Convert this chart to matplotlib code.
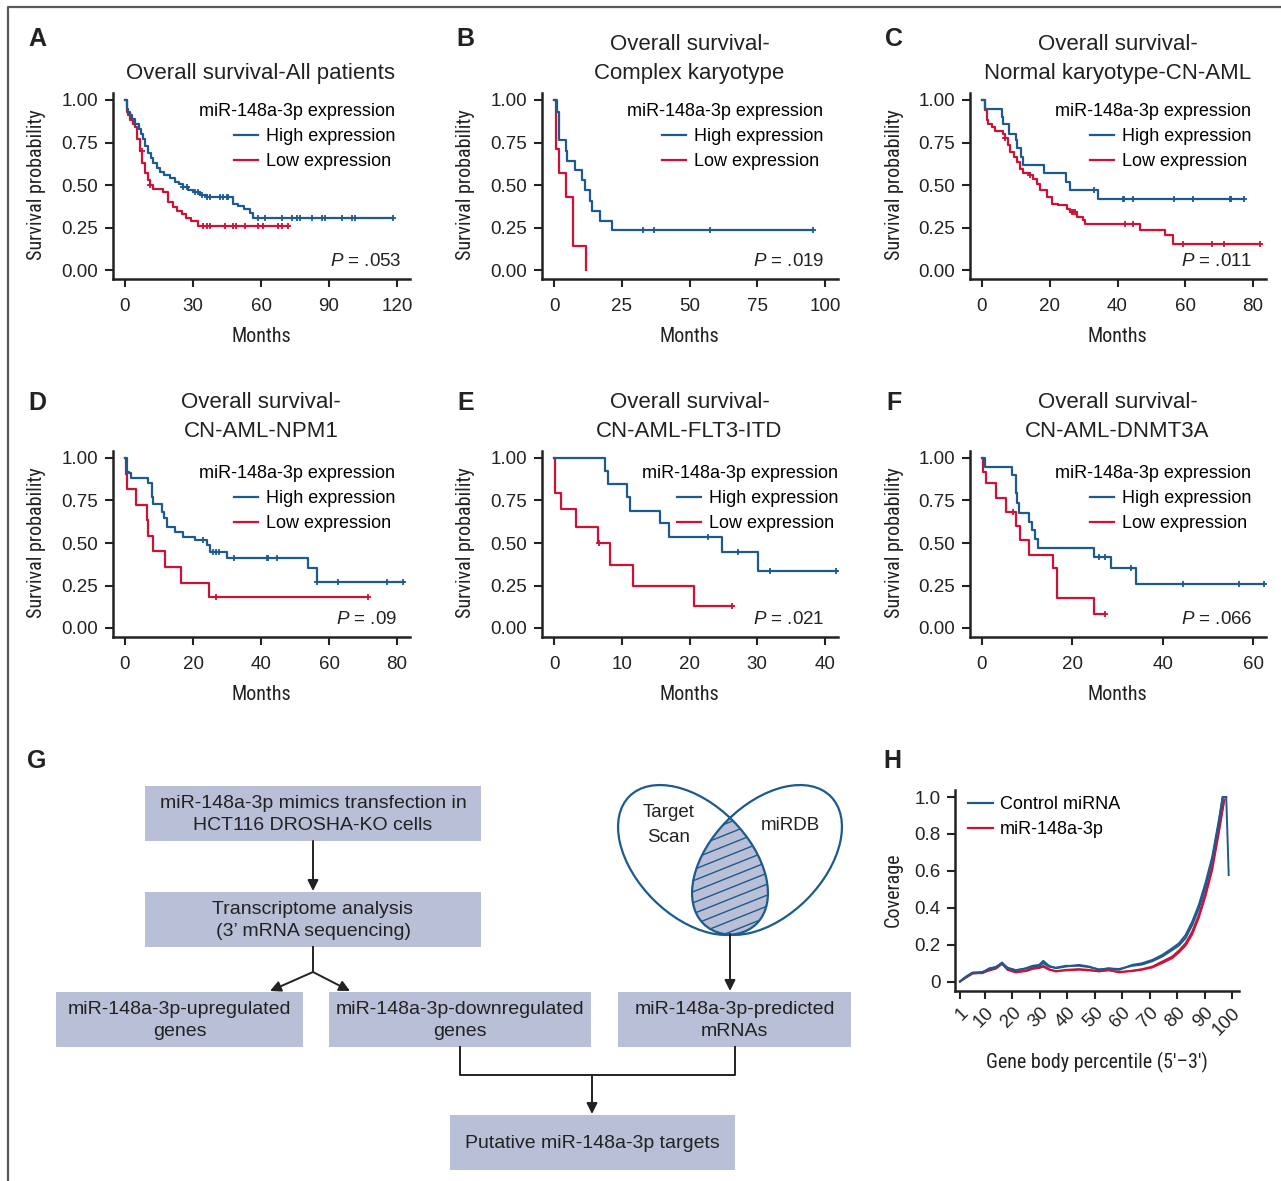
import numpy as np
import matplotlib
matplotlib.use("Agg")
import matplotlib.pyplot as plt
from matplotlib import font_manager as fm
from matplotlib.patches import Ellipse, Rectangle, Polygon
from matplotlib.lines import Line2D

plt.rcParams['font.family'] = ['Liberation Sans', 'DejaVu Sans']
plt.rcParams['mathtext.fontset'] = 'custom'
plt.rcParams['mathtext.it'] = 'Liberation Sans:italic'
plt.rcParams['mathtext.rm'] = 'Liberation Sans'


def narrow_font(size):
    # look for a condensed sans face for the axis titles
    prefs = ['liberation sans narrow', 'roboto condensed', 'open sans condensed', 'noto sans',
             'dejavu sans', 'open sans', 'roboto', 'inter', 'lato']
    found = []
    for f in fm.fontManager.ttflist:
        tag = (f.name + ' ' + str(f.stretch) + ' ' + f.fname).lower()
        if ('narrow' in tag or 'condensed' in tag) and f.style == 'normal' \
                and str(f.weight) in ('400', 'normal', 'regular') \
                and 'semi' not in tag and 'extra' not in tag and 'ultra' not in tag:
            found.append(f)
    for p in prefs:
        for f in found:
            if f.name.lower().startswith(p):
                return fm.FontProperties(fname=f.fname, size=size)
    if found:
        return fm.FontProperties(fname=found[0].fname, size=size)
    return fm.FontProperties(family=['Liberation Sans', 'DejaVu Sans'], size=size)


BLUE = '#1d5a8e'
RED = '#cc1236'
BOXC = '#b9bfd6'
INK = '#222222'

# ---- Kaplan-Meier data (months, survival) ----
# A: all patients
a_hi_t = [0, 0.7, 1.5, 3, 4.5, 6, 7, 8, 9, 10.3, 11.5, 12.5, 14, 15.4, 17, 19.9, 22, 24, 25.7, 28, 30, 33, 36, 47.5, 50, 52.6, 55, 56.5, 118.4]
a_hi_s = [1.0, 0.95, 0.91, 0.89, 0.86, 0.83, 0.80, 0.77, 0.73, 0.69, 0.66, 0.63, 0.60, 0.58, 0.56, 0.54, 0.52, 0.51, 0.49, 0.47, 0.46, 0.44, 0.43, 0.39, 0.38, 0.36, 0.34, 0.31, 0.31]
a_hi_c = [25.7, 27.2, 30.9, 32.4, 33.8, 36, 37.5, 41.9, 43.4, 44.9, 45.6, 58.8, 61.8, 69.1, 73.5, 75.7, 77.2, 82.4, 86.8, 88.2, 95.6, 100, 101.5, 118.4]
a_lo_t = [0, 1.0, 2.2, 3.5, 4.4, 5.5, 6.6, 7.5, 8.8, 10, 11, 12.5, 16.9, 19, 21, 22.8, 25, 27, 29, 32.3, 72]
a_lo_s = [1.0, 0.93, 0.88, 0.86, 0.84, 0.77, 0.70, 0.63, 0.57, 0.53, 0.50, 0.48, 0.46, 0.40, 0.37, 0.35, 0.33, 0.31, 0.29, 0.26, 0.26]
a_lo_c = [7.3, 11.2, 34.6, 36, 37.5, 44.1, 47.8, 49, 52.9, 58.8, 61, 67.6, 69.1, 72]

# B: complex karyotype
b_hi_t = [0, 1.0, 2.0, 4.4, 4.7, 7.7, 10.2, 11.4, 13.3, 13.9, 17.0, 21.3, 95.7]
b_hi_s = [1.0, 0.93, 0.765, 0.70, 0.64, 0.59, 0.53, 0.47, 0.41, 0.35, 0.29, 0.235, 0.235]
b_hi_c = [32.7, 37, 57.6, 95.7]
b_lo_t = [0, 0.7, 1.85, 4.4, 6.9, 7.1, 11.8]
b_lo_s = [1.0, 0.714, 0.571, 0.429, 0.286, 0.143, 0.0]
b_lo_c = []

# C: normal karyotype CN-AML
c_hi_t = [0, 0.9, 5.8, 6.3, 8.1, 10.0, 10.4, 11.4, 12.2, 18.3, 24.8, 26.0, 34.2, 77.4]
c_hi_s = [1.0, 0.945, 0.90, 0.86, 0.80, 0.765, 0.716, 0.667, 0.618, 0.569, 0.52, 0.47, 0.42, 0.42]
c_hi_c = [33.1, 41.5, 41.9, 44.7, 56.7, 62.4, 73.2, 73.6, 77.4]
c_lo_t = [0, 0.9, 1.4, 1.9, 2.9, 3.8, 6.3, 6.8, 7.8, 8.3, 9.3, 10.2, 11.2, 12.2, 14.2, 15.2, 16.1, 17.1, 19.1, 20.6, 22.5, 25.0, 26.0, 27.9, 29.9, 30.4, 46.6, 54.0, 56.5, 82.1]
c_lo_s = [1.0, 0.94, 0.88, 0.86, 0.84, 0.82, 0.80, 0.775, 0.735, 0.696, 0.667, 0.637, 0.598, 0.569, 0.559, 0.539, 0.51, 0.47, 0.43, 0.39, 0.382, 0.363, 0.343, 0.314, 0.294, 0.275, 0.235, 0.206, 0.157, 0.157]
c_lo_c = [6.8, 14.2, 26.5, 27.0, 27.5, 42.2, 44.7, 59.4, 67.8, 71.5, 82.1]

# D: CN-AML-NPM1
d_hi_t = [0, 0.7, 1.3, 1.7, 6.9, 7.8, 8.3, 10.8, 11.5, 12.3, 14.7, 17.2, 20.6, 24.0, 25.0, 29.9, 53.9, 56.4, 81.9]
d_hi_s = [1.0, 0.92, 0.91, 0.88, 0.85, 0.77, 0.73, 0.684, 0.65, 0.596, 0.567, 0.537, 0.518, 0.488, 0.449, 0.41, 0.351, 0.272, 0.272]
d_hi_c = [23.0, 25.9, 26.8, 27.5, 32.1, 41.7, 42.2, 44.6, 56.6, 62.5, 77.2, 81.9]
d_lo_t = [0, 0.3, 0.7, 3.2, 6.4, 6.9, 8.3, 11.8, 16.4, 24.8, 71.6]
d_lo_s = [1.0, 0.906, 0.816, 0.724, 0.635, 0.541, 0.455, 0.361, 0.267, 0.18, 0.18]
d_lo_c = [26.8, 71.6]

# E: CN-AML-FLT3-ITD
e_hi_t = [0, 7.5, 8.0, 10.8, 11.2, 15.6, 17.0, 24.8, 30.1, 41.7]
e_hi_s = [1.0, 0.925, 0.847, 0.769, 0.69, 0.616, 0.537, 0.449, 0.337, 0.337]
e_hi_c = [22.8, 27.2, 31.9, 41.6]
e_lo_t = [0, 0.15, 1.0, 3.25, 6.5, 8.2, 11.6, 20.6, 26.4]
e_lo_s = [1.0, 0.796, 0.698, 0.596, 0.498, 0.37, 0.247, 0.129, 0.129]
e_lo_c = [6.6, 26.2]

# F: CN-AML-DNMT3A
f_hi_t = [0, 0.66, 6.6, 7.5, 7.8, 8.3, 10.3, 11.0, 11.7, 12.3, 24.8, 28.5, 34.0, 62.5]
f_hi_s = [1.0, 0.949, 0.90, 0.792, 0.733, 0.678, 0.626, 0.576, 0.522, 0.469, 0.416, 0.351, 0.259, 0.259]
f_hi_c = [26.0, 27.3, 32.9, 44.6, 56.8, 62.5]
f_lo_t = [0, 0.22, 0.9, 3.1, 5.3, 7.5, 8.4, 10.5, 15.8, 16.5, 24.8, 27.3]
f_lo_s = [1.0, 0.92, 0.851, 0.763, 0.684, 0.6, 0.518, 0.427, 0.351, 0.175, 0.082, 0.082]
f_lo_c = [6.8, 27.3]

letters = ['A', 'B', 'C', 'D', 'E', 'F']
titles = ['Overall survival-All patients',
          'Overall survival-\nComplex karyotype',
          'Overall survival-\nNormal karyotype-CN-AML',
          'Overall survival-\nCN-AML-NPM1',
          'Overall survival-\nCN-AML-FLT3-ITD',
          'Overall survival-\nCN-AML-DNMT3A']
xmaxes = [120, 100, 80, 80, 40, 60]
xsteps = [30, 25, 20, 20, 10, 20]
pvals = ['.053', '.019', '.011', '.09', '.021', '.066']
series = [(a_hi_t, a_hi_s, a_hi_c, a_lo_t, a_lo_s, a_lo_c),
          (b_hi_t, b_hi_s, b_hi_c, b_lo_t, b_lo_s, b_lo_c),
          (c_hi_t, c_hi_s, c_hi_c, c_lo_t, c_lo_s, c_lo_c),
          (d_hi_t, d_hi_s, d_hi_c, d_lo_t, d_lo_s, d_lo_c),
          (e_hi_t, e_hi_s, e_hi_c, e_lo_t, e_lo_s, e_lo_c),
          (f_hi_t, f_hi_s, f_hi_c, f_lo_t, f_lo_s, f_lo_c)]

# ---- H: gene body coverage ----
h_pct = [1, 3.2, 5.6, 9.2, 11.7, 14.1, 16.3, 18.3, 21.3, 25.0, 27.4, 29.8, 31.3, 33.4, 35.9, 39.5, 44.3, 48.0,
         51.6, 55.2, 58.9, 63.7, 67.3, 71.0, 74.6, 78.2, 80.7, 83.1, 85.5, 87.9, 90.3, 92.8, 95.2]
ctrl_1 = [0, .027, .049, .049, .072, .077, .103, .072, .059, .072, .085, .09, .112, .085, .072, .081, .09, .081,
          .063, .072, .063, .09, .099, .117, .144, .18, .207, .252, .324, .414, .532, .676, .874]
ctrl_2 = [0, .025, .046, .052, .068, .080, .098, .075, .062, .070, .080, .085, .100, .080, .075, .085, .085, .078,
          .066, .070, .068, .085, .092, .110, .135, .170, .195, .235, .305, .395, .510, .660, .860]
ctrl_end_pct = [96.6, 97.9, 98.8]
ctrl_end_val = [1.0, 1.0, 0.577]
mir_1 = [0, .023, .045, .045, .063, .072, .099, .063, .049, .059, .072, .077, .085, .067, .054, .063, .067, .063,
         .054, .063, .049, .059, .067, .081, .108, .135, .168, .207, .270, .360, .477, .622, .820]
mir_2 = [0, .021, .043, .048, .060, .070, .095, .066, .052, .056, .068, .073, .080, .064, .057, .060, .064, .060,
         .057, .060, .052, .056, .064, .076, .100, .126, .158, .195, .255, .345, .460, .605, .805]
mir_end_pct = [97.2]
mir_end_val = [0.986]
h_ticks = [1, 10, 20, 30, 40, 50, 60, 70, 80, 90, 100]

# ---- G: workflow ----
box_texts = ['miR-148a-3p mimics transfection in\nHCT116 DROSHA-KO cells',
             'Transcriptome analysis\n(3\u2019 mRNA sequencing)',
             'miR-148a-3p-upregulated\ngenes',
             'miR-148a-3p-downregulated\ngenes',
             'miR-148a-3p-predicted\nmRNAs',
             'Putative miR-148a-3p targets']
box_px = [(145, 786, 481, 841), (145, 892, 481, 947), (56, 992, 303, 1047),
          (329, 992, 591, 1047), (618, 992, 851, 1047), (450, 1115, 735, 1170)]

W, H = 1281, 1181
fig = plt.figure(figsize=(W / 100, H / 100), dpi=100)
NARROW = narrow_font(14.5)

# background axes in pixel units for diagram, border, labels
bg = fig.add_axes([0, 0, 1, 1])
bg.set_xlim(0, W)
bg.set_ylim(H, 0)
bg.axis('off')
bg.plot([8, 8, W], [H, 7, 7], color='#5a5a5a', lw=1.6)


def add_px_axes(left, top, right, bottom):
    return fig.add_axes([left / W, 1 - bottom / H, (right - left) / W, (bottom - top) / H])


def style_axes(ax):
    for s in ['top', 'right']:
        ax.spines[s].set_visible(False)
    for s in ['left', 'bottom']:
        ax.spines[s].set_linewidth(1.8)
        ax.spines[s].set_color(INK)
    ax.tick_params(direction='out', length=5.5, width=1.5, pad=5, labelsize=13.5, colors=INK)
    ax.tick_params(axis='x', pad=8.5)


def km(ax, t, s, cens, color):
    ax.step(t, s, where='post', color=color, lw=1.6)
    if len(cens):
        idx = np.searchsorted(t, cens, side='right') - 1
        ax.plot(cens, np.array(s)[idx], '+', color=color, ms=5, mew=1.3, ls='none')


col_x0 = [125, 554, 982]
col_x1 = [397, 825, 1253]
row_y0 = [270.5, 628]
row_y1 = [100, 458]
leg_shift = [15, 15, 15, 15, 0, 15]

for i in range(6):
    r, c = divmod(i, 3)
    x0, x1 = col_x0[c], col_x1[c]
    y0, y1 = row_y0[r], row_y1[r]
    left, right = x0 - 12, x1 + 13
    top, bottom = y1 - 7, y0 + 8.5
    ax = add_px_axes(left, top, right, bottom)
    sx = (x1 - x0) / xmaxes[i]
    sy = (y0 - y1)
    ax.set_xlim((left - x0) / sx, (right - x0) / sx)
    ax.set_ylim((y0 - bottom) / sy, (y0 - top) / sy)
    style_axes(ax)
    ax.set_xticks(np.arange(0, xmaxes[i] + 1, xsteps[i]))
    ax.set_yticks([0, 0.25, 0.5, 0.75, 1.0])
    ax.set_yticklabels(['0.00', '0.25', '0.50', '0.75', '1.00'])
    hi_t, hi_s, hi_c, lo_t, lo_s, lo_c = series[i]
    km(ax, lo_t, lo_s, lo_c, RED)
    km(ax, hi_t, hi_s, hi_c, BLUE)
    handles = [Line2D([], [], color=BLUE, lw=1.6), Line2D([], [], color=RED, lw=1.6)]
    lx = 1 - leg_shift[i] / (right - left)
    ly = 0.945 if r == 0 else 0.925
    ax.legend(handles, ['High expression', 'Low expression'], title='miR-148a-3p expression',
              loc='upper right', bbox_to_anchor=(lx, ly), frameon=False, alignment='right',
              fontsize=13, title_fontsize=13, handlelength=1.3, handletextpad=0.45,
              labelspacing=0.45, borderaxespad=0, borderpad=0)
    ax.text(0.955 if i else 0.973, 0.07, '$P$ = ' + pvals[i], transform=ax.transAxes,
            ha='right', va='baseline', fontsize=13.5, color=INK)
    cx = (x0 + x1) / 2
    fig.text(cx / W, 1 - (84 + 358 * r) / H, titles[i], ha='center', va='bottom',
             fontsize=16, linespacing=1.5, color=INK)
    fig.text(cx / W, 1 - (337 + 357 * r) / H, 'Months', ha='center', va='center',
             fontproperties=NARROW, color=INK)
    fig.text((37 + 428.5 * c) / W, 1 - (185 + 358 * r) / H, 'Survival probability', rotation=90,
             ha='center', va='center', fontproperties=NARROW, color=INK)
    fig.text((37 + 428.5 * c) / W, 1 - (39 + 364 * r) / H, letters[i], ha='center', va='center',
             fontsize=18, fontweight='bold', color=INK)

# ---- panel H ----
hl, ht, hr, hb = 955, 790, 1239, 991
axh = add_px_axes(hl, ht, hr, hb)
hx0, hx1, hy0, hy1 = 960, 1232, 981.5, 797
sx = (hx1 - hx0) / 99
sy = hy0 - hy1
axh.set_xlim(1 + (hl - hx0) / sx, 1 + (hr - hx0) / sx)
axh.set_ylim((hy0 - hb) / sy, (hy0 - ht) / sy)
style_axes(axh)
axh.plot(h_pct + mir_end_pct, mir_1 + mir_end_val, color=RED, lw=1.4)
axh.plot(h_pct + mir_end_pct, mir_2 + mir_end_val, color=RED, lw=1.4)
axh.plot(h_pct + ctrl_end_pct, ctrl_1 + ctrl_end_val, color=BLUE, lw=1.4)
axh.plot(h_pct + ctrl_end_pct[:2], ctrl_2 + ctrl_end_val[:2], color=BLUE, lw=1.4)
axh.set_yticks([0, 0.2, 0.4, 0.6, 0.8, 1.0])
axh.set_yticklabels(['0', '0.2', '0.4', '0.6', '0.8', '1.0'])
axh.set_xticks(h_ticks)
axh.set_xticklabels([str(v) for v in h_ticks], rotation=45, ha='right', rotation_mode='anchor')
axh.tick_params(axis='x', pad=4)
axh.legend([Line2D([], [], color=BLUE, lw=1.6), Line2D([], [], color=RED, lw=1.6)],
           ['Control miRNA', 'miR-148a-3p'], loc='upper left', bbox_to_anchor=(0.045, 0.97),
           frameon=False, fontsize=13, handlelength=1.4, handletextpad=0.4,
           labelspacing=0.45, borderaxespad=0, borderpad=0)
fig.text(893 / W, 1 - 890 / H, 'Coverage', rotation=90, ha='center', va='center',
         fontproperties=NARROW, color=INK)
fig.text(1097 / W, 1 - 1062 / H, 'Gene body percentile (5\u2032\u20133\u2032)', ha='center', va='center',
         fontproperties=NARROW, color=INK)
fig.text(892 / W, 1 - 761 / H, 'H', ha='center', va='center', fontsize=18, fontweight='bold', color=INK)
fig.text(37 / W, 1 - 761 / H, 'G', ha='center', va='center', fontsize=18, fontweight='bold', color=INK)

# ---- panel G: workflow ----
for txt, (x0, y0, x1, y1) in zip(box_texts, box_px):
    bg.add_patch(Rectangle((x0, y0), x1 - x0, y1 - y0, facecolor=BOXC, edgecolor='none'))
    bg.text((x0 + x1) / 2, (y0 + y1) / 2 + 1, txt, ha='center', va='center', fontsize=14,
            linespacing=1.45, color=INK)

arrow_kw = dict(arrowstyle='-|>', color=INK, lw=1.4, mutation_scale=16, shrinkA=0, shrinkB=0)


def arrow(p, q):
    bg.annotate('', xy=q, xytext=p, arrowprops=arrow_kw)


arrow((313, 841), (313, 891))
bg.plot([313, 313], [947, 972], color=INK, lw=1.4)
arrow((313, 972), (270, 991))
arrow((313, 972), (350, 991))
bg.plot([460, 460, 735, 735], [1047, 1075, 1075, 1047], color=INK, lw=1.4)
arrow((592, 1075), (592, 1114))
arrow((730, 934), (730, 991))

# Venn diagram
ell_l = dict(xy=(693, 860), width=180, height=112, angle=45)
ell_r = dict(xy=(767, 860), width=180, height=112, angle=-45)


def ell_points(xy, width, height, angle, n=720):
    th = np.linspace(0, 2 * np.pi, n, endpoint=False)
    a = np.deg2rad(angle)
    u, v = width / 2 * np.cos(th), height / 2 * np.sin(th)
    return np.column_stack([xy[0] + u * np.cos(a) - v * np.sin(a), xy[1] + u * np.sin(a) + v * np.cos(a)])


def ell_inside(pts, xy, width, height, angle):
    a = np.deg2rad(angle)
    dx, dy = pts[:, 0] - xy[0], pts[:, 1] - xy[1]
    u = dx * np.cos(a) + dy * np.sin(a)
    v = -dx * np.sin(a) + dy * np.cos(a)
    return (u / (width / 2)) ** 2 + (v / (height / 2)) ** 2 <= 1


pl = ell_points(**ell_l)
pr = ell_points(**ell_r)
inter = np.vstack([pl[ell_inside(pl, **ell_r)], pr[ell_inside(pr, **ell_l)]])
cen = inter.mean(axis=0)
order = np.argsort(np.arctan2(inter[:, 1] - cen[1], inter[:, 0] - cen[0]))
lens = Polygon(inter[order], closed=True, facecolor=BOXC, edgecolor='none')
bg.add_patch(lens)
for k in range(-8, 16):
    yy = 800 + k * 11
    ln, = bg.plot([680, 780], [yy + 20, yy - 20], color=BLUE, lw=1.0)
    ln.set_clip_path(lens)
for e in (ell_l, ell_r):
    bg.add_patch(Ellipse(**e, fill=False, edgecolor=BLUE, lw=1.6))
bg.text(669, 825, 'Target\nScan', ha='center', va='center', fontsize=13.5, linespacing=1.55, color=INK)
bg.text(790, 826, 'miRDB', ha='center', va='center', fontsize=13.5, color=INK)

fig.savefig('out.png', dpi=100)
